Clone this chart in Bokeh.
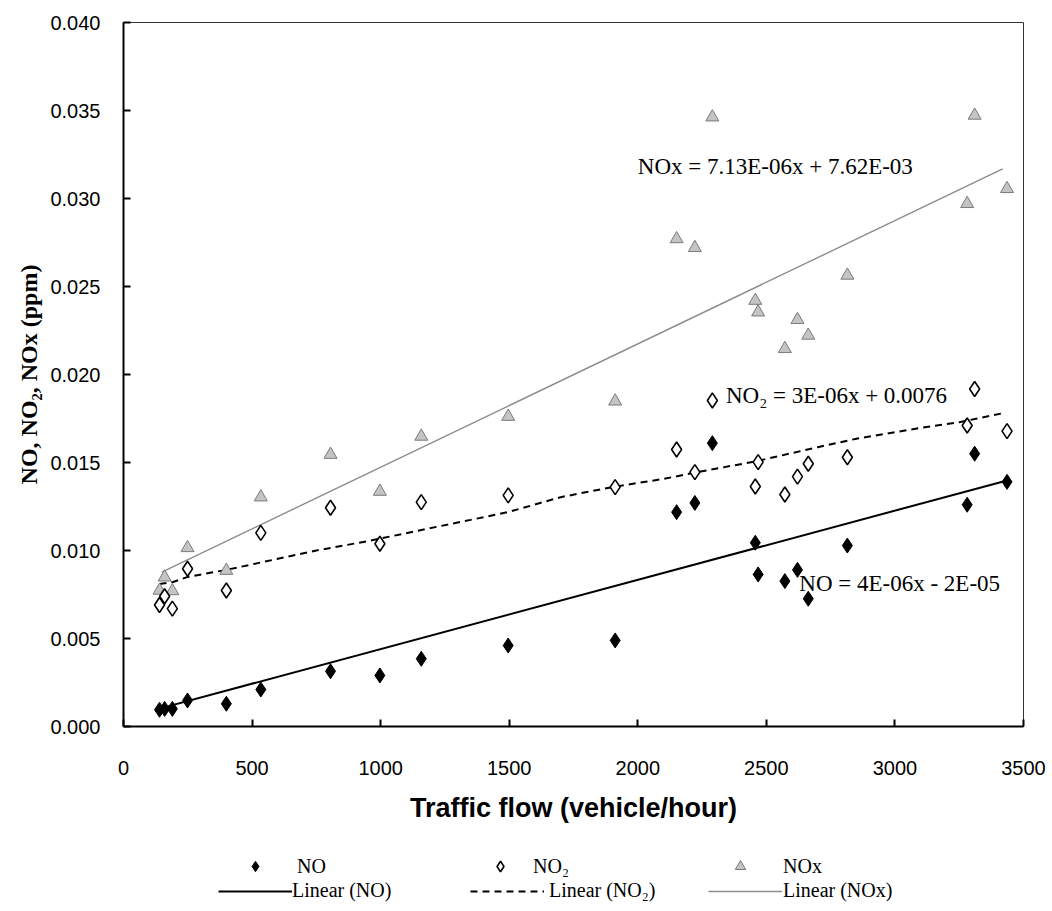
from bokeh.plotting import figure
from bokeh.layouts import column
from bokeh.models import (Label, Legend, LegendItem, NumeralTickFormatter,
                          FixedTicker, Range1d)
from bokeh.embed import file_html
from bokeh.resources import INLINE

# ---------------- data ----------------
TRAFFIC = [140, 160, 190, 249, 400, 534, 805, 997, 1158, 1496, 1912, 2151,
           2222, 2290, 2457, 2468, 2572, 2621, 2663, 2815, 3281, 3310, 3436]
NO = [0.00095, 0.0010, 0.0010, 0.00148, 0.00129, 0.0021, 0.00314, 0.0029,
      0.00385, 0.0046, 0.00489, 0.01218, 0.0127, 0.0161, 0.01044, 0.00864,
      0.00826, 0.0089, 0.00726, 0.01028, 0.0126, 0.0155, 0.0139]
NO2 = [0.0069, 0.0074, 0.0067, 0.00896, 0.00773, 0.0110, 0.01243, 0.01038,
       0.01275, 0.01313, 0.0136, 0.01574, 0.01445, 0.01852, 0.01364, 0.01502,
       0.01318, 0.0142, 0.01493, 0.0153, 0.0171, 0.01918, 0.01678]
NOX = [0.00773, 0.00848, 0.0077, 0.01015, 0.00886, 0.01303, 0.01545, 0.01335,
       0.01648, 0.01761, 0.01848, 0.0277, 0.0272, 0.03462, 0.0242, 0.02354,
       0.02146, 0.02311, 0.02222, 0.02563, 0.0297, 0.03472, 0.03055]

NO_FIT_X = [136, 3436]
NO_FIT_Y = [0.0010, 0.01398]
NOX_FIT_X = [149, 3419]
NOX_FIT_Y = [0.00877, 0.03168]
NO2_TREND_X = [140, 190, 250, 400, 560, 750, 950, 1150, 1350, 1500, 1700,
               1900, 2100, 2250, 2460, 2700, 2850, 3100, 3250, 3420]
NO2_TREND_Y = [0.0081, 0.0082, 0.0085, 0.0089, 0.0094, 0.0100, 0.01053,
               0.01114, 0.01174, 0.0122, 0.01303, 0.0136, 0.01407, 0.0145,
               0.01507, 0.01587, 0.01635, 0.01697, 0.01729, 0.0178]

X_TICKS = [0, 500, 1000, 1500, 2000, 2500, 3000, 3500]
Y_TICKS = [0.0, 0.005, 0.010, 0.015, 0.020, 0.025, 0.030, 0.035, 0.040]

EQ_NOX = "NOx = 7.13E-06x + 7.62E-03"
EQ_NO2 = "NO\u2082 = 3E-06x + 0.0076"
EQ_NO = "NO = 4E-06x - 2E-05"

SERIF = "Liberation Serif"
SANS = "Liberation Sans"

# ---------------- main figure ----------------
p = figure(frame_width=900, frame_height=704,
           x_range=Range1d(0, 3500), y_range=Range1d(0, 0.040),
           output_backend="svg", toolbar_location=None,
           min_border_left=123, min_border_right=27,
           min_border_top=22, min_border_bottom=115,
           background_fill_color="white", border_fill_color="white")
p.grid.visible = False
p.outline_line_color = "#333333"
p.outline_line_width = 1

for ax in (p.xaxis[0], p.yaxis[0]):
    ax.axis_line_color = "black"
    ax.axis_line_width = 2
    ax.major_tick_line_color = "black"
    ax.major_tick_line_width = 2
    ax.major_tick_in = 7
    ax.major_tick_out = 0
    ax.minor_tick_line_color = None
    ax.major_label_text_font = SANS
    ax.major_label_text_font_size = "20px"
    ax.major_label_text_color = "black"

p.xaxis.ticker = FixedTicker(ticks=X_TICKS)
p.yaxis.ticker = FixedTicker(ticks=Y_TICKS)
p.yaxis.formatter = NumeralTickFormatter(format="0.000")
p.xaxis.formatter = NumeralTickFormatter(format="0")
p.xaxis.major_label_standoff = 34
p.yaxis.major_label_standoff = 23

p.xaxis.axis_label = "Traffic flow (vehicle/hour)"
p.xaxis.axis_label_text_font = SANS
p.xaxis.axis_label_text_font_style = "bold"
p.xaxis.axis_label_text_font_size = "27px"
p.xaxis.axis_label_standoff = 15
p.xaxis.axis_label_text_color = "black"

p.yaxis.axis_label = "NO, NO\u2082, NOx (ppm)"
p.yaxis.axis_label_text_font = SERIF
p.yaxis.axis_label_text_font_style = "bold"
p.yaxis.axis_label_text_font_size = "24px"
p.yaxis.axis_label_standoff = 5
p.yaxis.axis_label_text_color = "black"

# trend lines
NOX_LINE = dict(line_color="#8c8c8c", line_width=1.4)
NO2_LINE = dict(line_color="black", line_width=2, line_dash="7 5")
NO_LINE = dict(line_color="black", line_width=2)
p.line(NOX_FIT_X, NOX_FIT_Y, **NOX_LINE)
p.line(NO2_TREND_X, NO2_TREND_Y, **NO2_LINE)
p.line(NO_FIT_X, NO_FIT_Y, **NO_LINE)

# points
NOX_MARK = dict(marker="triangle", size=13, fill_color="#c4c4c4",
                line_color="#7a7a7a", line_width=1)
NO2_MARK = dict(marker="diamond", size=15, fill_color="white",
                line_color="black", line_width=1.6)
NO_MARK = dict(marker="diamond", size=15, fill_color="black",
               line_color="black", line_width=1)
p.scatter(TRAFFIC, NOX, **NOX_MARK)
p.scatter(TRAFFIC, NO2, **NO2_MARK)
p.scatter(TRAFFIC, NO, **NO_MARK)

# equation labels
for x, y, t in [(2000, 0.0318, EQ_NOX), (2343, 0.0188, EQ_NO2),
                (2628, 0.0081, EQ_NO)]:
    p.add_layout(Label(x=x, y=y, text=t, text_font=SERIF,
                       text_font_size="23px", text_color="black",
                       text_baseline="middle", text_align="left"))

# ---------------- legend strip ----------------
lf = figure(frame_width=1050, frame_height=64,
            x_range=Range1d(0, 1), y_range=Range1d(0, 1),
            output_backend="svg", toolbar_location=None,
            x_axis_location=None, y_axis_location=None,
            min_border_left=0, min_border_right=0,
            min_border_top=0, min_border_bottom=0,
            outline_line_color=None, background_fill_color="white",
            border_fill_color="white")
lf.grid.visible = False

# key renderers: a single point outside the visible range, only for the keys
k_no = lf.scatter(x=[-5], y=[-5], **NO_MARK)
k_no2 = lf.scatter(x=[-5], y=[-5], **NO2_MARK)
k_nox = lf.scatter(x=[-5], y=[-5], **NOX_MARK)
k_lno = lf.line(x=[-5, -4], y=[-5, -5], **NO_LINE)
k_lno2 = lf.line(x=[-5, -4], y=[-5, -5], **NO2_LINE)
k_lnox = lf.line(x=[-5, -4], y=[-5, -5], **NOX_LINE)


def add_legend(renderer, label, loc, glyph_w, glyph_h, standoff):
    lg = Legend(items=[LegendItem(label=label, renderers=[renderer])],
                location=loc, orientation="horizontal",
                glyph_width=glyph_w, glyph_height=glyph_h, label_height=16,
                label_standoff=standoff, padding=0, margin=0, spacing=0,
                label_text_font=SERIF, label_text_font_size="20px",
                label_text_color="black", border_line_color=None,
                background_fill_alpha=0)
    lf.add_layout(lg)


ROW1_Y = 26
ROW2_Y = 3
add_legend(k_no, "NO", (240, ROW1_Y), 30, 26, 27)
add_legend(k_no2, "NO\u2082", (485, ROW1_Y), 30, 26, 18)
add_legend(k_nox, "NOx", (725, ROW1_Y), 30, 26, 28)
add_legend(k_lno, "Linear (NO)", (218, ROW2_Y), 74, 16, 0)
add_legend(k_lno2, "Linear (NO\u2082)", (470, ROW2_Y), 74, 16, 5)
add_legend(k_lnox, "Linear (NOx)", (708, ROW2_Y), 74, 16, 1)

layout = column(p, lf, spacing=0)
open("out.html", "w").write(file_html(layout, INLINE))
